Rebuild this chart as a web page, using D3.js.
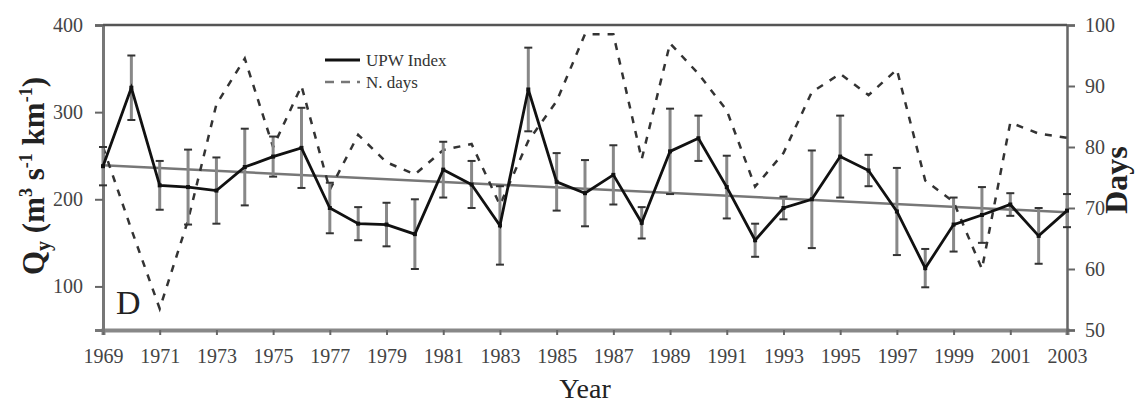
<!DOCTYPE html>
<html><head><meta charset="utf-8">
<script src="https://cdn.jsdelivr.net/npm/d3@7"></script>
<style>body{margin:0;background:#fff}svg{display:block}text{font-family:"Liberation Serif","Times New Roman",serif}</style>
</head><body><svg id="c" width="1142" height="403"></svg>
<script>
const years = [1969,1970,1971,1972,1973,1974,1975,1976,1977,1978,1979,1980,1981,1982,1983,1984,1985,1986,1987,1988,1989,1990,1991,1992,1993,1994,1995,1996,1997,1998,1999,2000,2001,2002,2003];
const upw = [238,328,216,214,210,237,249,259,190,172,171,160,234,217,170,326,220,207,228,173,255,270,214,153,190,200,249,233,186,121,171,182,194,158,187];
const upwErr = [22,37,28,43,38,44,23,46,29,19,25,40,32,27,45,48,33,38,34,18,49,26,36,19,13,56,47,18,50,22,31,32,13,32,19];
const nDays = [80,66.5,53.5,68,87,94.5,80,90,73,82,77.5,75.5,79.5,80.5,70.5,81,87.5,98.5,98.5,78,97,92,86,73.5,79,89,92,88.5,92.7,74.5,71,60,84,82.2,81.5];
const trendYears = [1969,2003];
const trendVals = [239,185];
const xTicks = [1969,1971,1973,1975,1977,1979,1981,1983,1985,1987,1989,1991,1993,1995,1997,1999,2001,2003];
const leftTicks = [100,200,300,400];
const rightTicks = [50,60,70,80,90,100];
const legendLabels = ["UPW Index","N. days"];

const svg = d3.select("#c");
const L=103,R=1067,T=25,B=330;
const x = d3.scaleLinear().domain([1969,2003]).range([L,R]);
const yL = d3.scaleLinear().domain([50,400]).range([B,T]);
const yR = d3.scaleLinear().domain([50,100]).range([B,T]);

// axes
const fs = "20px";
const ax = svg.append("g").attr("transform",`translate(0,${B})`)
  .call(d3.axisBottom(x).tickValues(xTicks).tickFormat(d3.format("d")).tickSize(5).tickPadding(14));
const ayl = svg.append("g").attr("transform",`translate(${L},0)`)
  .call(d3.axisLeft(yL).tickValues(leftTicks).tickSize(8).tickPadding(12));
const ayr = svg.append("g").attr("transform",`translate(${R},0)`)
  .call(d3.axisRight(yR).tickValues(rightTicks).tickSize(8).tickPadding(10));
[ax,ayl,ayr].forEach(g=>{
  g.selectAll("text").attr("font-size",fs).attr("fill","#444").attr("font-family",'"Liberation Serif",serif');
  g.selectAll(".tick line").attr("stroke","#666").attr("stroke-width",2);
  g.select(".domain").attr("stroke","#777");
});
ax.select(".domain").attr("stroke-width",4).attr("stroke","#888");
ayl.select(".domain").attr("stroke-width",3);
ayr.select(".domain").attr("stroke-width",2.5).attr("stroke","#666");
svg.append("line").attr("x1",L).attr("x2",R).attr("y1",T).attr("y2",T).attr("stroke","#555").attr("stroke-width",2.5);

// trend
svg.append("path").datum(trendYears.map((yr,i)=>[yr,trendVals[i]]))
  .attr("d",d3.line().x(d=>x(d[0])).y(d=>yL(d[1])))
  .attr("stroke","#777").attr("stroke-width",2.5).attr("fill","none");

// N days dashed
svg.append("path").datum(years.map((yr,i)=>[yr,nDays[i]]))
  .attr("d",d3.line().x(d=>x(d[0])).y(d=>yR(d[1])))
  .attr("stroke","#333").attr("stroke-width",2.5).attr("fill","none").attr("stroke-dasharray","7,8");

// error bars
const eb = svg.append("g");
years.forEach((yr,i)=>{
  const cx=x(yr), y1=yL(upw[i]+upwErr[i]), y2=yL(upw[i]-upwErr[i]);
  eb.append("line").attr("x1",cx).attr("x2",cx).attr("y1",y1).attr("y2",y2).attr("stroke","#888").attr("stroke-width",3);
  [y1,y2].forEach(yy=>eb.append("line").attr("x1",cx-4).attr("x2",cx+4).attr("y1",yy).attr("y2",yy).attr("stroke","#333").attr("stroke-width",2));
});

// UPW line
svg.append("path").datum(years.map((yr,i)=>[yr,upw[i]]))
  .attr("d",d3.line().x(d=>x(d[0])).y(d=>yL(d[1])))
  .attr("stroke","#111").attr("stroke-width",2.8).attr("fill","none");
svg.append("g").selectAll("rect").data(years).join("rect")
  .attr("x",(d)=>x(d)-2).attr("y",(d,i)=>yL(upw[i])-2).attr("width",4).attr("height",4).attr("fill","#111");

// legend
const lg = svg.append("g");
lg.append("line").attr("x1",325).attr("x2",360).attr("y1",60).attr("y2",60).attr("stroke","#111").attr("stroke-width",3);
lg.append("line").attr("x1",325).attr("x2",360).attr("y1",82).attr("y2",82).attr("stroke","#777").attr("stroke-width",2.5).attr("stroke-dasharray","9,7");
lg.append("text").attr("x",366).attr("y",66).attr("font-size","17px").attr("fill","#333").text(legendLabels[0]);
lg.append("text").attr("x",366).attr("y",88).attr("font-size","17px").attr("fill","#333").text(legendLabels[1]);

// panel letter
svg.append("text").attr("x",116).attr("y",314).attr("font-size","34px").attr("fill","#222").text("D");

// axis titles
svg.append("text").attr("x",585).attr("y",398).attr("text-anchor","middle").attr("font-size","28px").attr("fill","#222").text("Year");
const yt = svg.append("text").attr("transform","translate(44,176) rotate(-90)").attr("text-anchor","middle")
  .attr("font-size","31px").attr("font-weight","bold").attr("fill","#222");
yt.append("tspan").text("Q");
yt.append("tspan").attr("font-size","20px").attr("dy","6").text("y");
yt.append("tspan").attr("dy","-6").text(" (m");
yt.append("tspan").attr("font-size","18px").attr("dy","-12").text("3");
yt.append("tspan").attr("dy","12").text(" s");
yt.append("tspan").attr("font-size","18px").attr("dy","-12").text("-1");
yt.append("tspan").attr("dy","12").text(" km");
yt.append("tspan").attr("font-size","18px").attr("dy","-12").text("-1");
yt.append("tspan").attr("dy","12").text(")");
svg.append("text").attr("transform","translate(1127,180) rotate(-90)").attr("text-anchor","middle")
  .attr("font-size","32px").attr("font-weight","bold").attr("fill","#222").text("Days");
</script></body></html>
